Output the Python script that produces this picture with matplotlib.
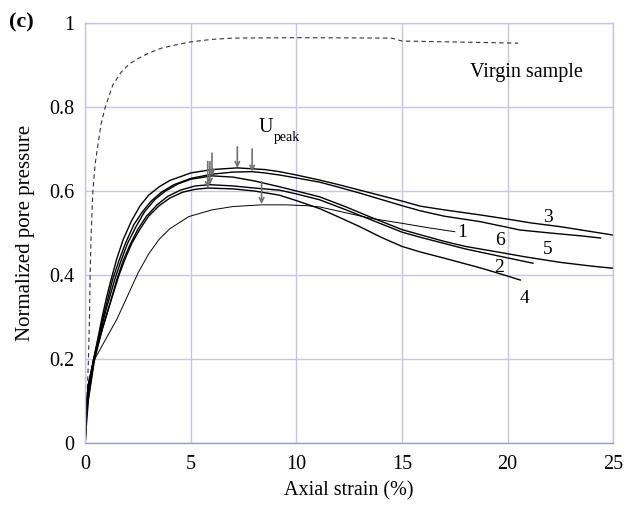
import matplotlib
matplotlib.use("Agg")
import matplotlib.pyplot as plt

plt.rcParams['font.family'] = ['Liberation Serif', 'DejaVu Serif']

# Virgin sample (dashed)
virgin_x = [0, 0.08, 0.15, 0.2, 0.23, 0.28, 0.36, 0.47, 0.6, 0.75, 0.95, 1.3, 1.7, 2.1, 2.6, 3.0, 3.6, 4.3, 5.0, 6.0, 7.0, 10.0, 14.5, 15.0, 20.5]
virgin_y = [0, 0.1, 0.2, 0.3, 0.4, 0.5, 0.6, 0.665, 0.71, 0.76, 0.8, 0.852, 0.883, 0.903, 0.918, 0.928, 0.94, 0.948, 0.955, 0.961, 0.964, 0.965, 0.964, 0.957, 0.952]

# Samples 1-6
c3_x = [0, 0.03, 0.15, 0.4, 0.6, 0.8, 1.0, 1.2, 1.5, 1.8, 2.2, 2.6, 3.0, 3.5, 4.0, 5.0, 6.0, 7.2, 8.5, 9.2, 10.0, 11.1, 12.0, 13.0, 14.0, 15.0, 15.85, 17.0, 18.7, 20.0, 21.1, 22.5, 24.0, 25.0]
c3_y = [0, 0.08, 0.14, 0.2, 0.25, 0.3, 0.345, 0.385, 0.44, 0.485, 0.53, 0.565, 0.59, 0.61, 0.625, 0.643, 0.651, 0.655, 0.651, 0.646, 0.638, 0.626, 0.615, 0.602, 0.589, 0.576, 0.564, 0.555, 0.543, 0.533, 0.524, 0.515, 0.503, 0.495]

c5_x = [0, 0.03, 0.15, 0.4, 0.6, 0.8, 1.0, 1.3, 1.6, 1.9, 2.3, 2.7, 3.1, 3.6, 4.2, 5.0, 6.0, 7.0, 7.9, 8.5, 9.2, 10.0, 11.1, 12.0, 13.0, 14.0, 15.0, 15.85, 17.0, 18.7, 20.6, 22.0, 23.5, 24.4]
c5_y = [0, 0.07, 0.13, 0.2, 0.245, 0.29, 0.33, 0.39, 0.435, 0.475, 0.52, 0.55, 0.575, 0.597, 0.615, 0.63, 0.64, 0.645, 0.646, 0.643, 0.638, 0.631, 0.621, 0.609, 0.595, 0.58, 0.565, 0.553, 0.54, 0.527, 0.507, 0.5, 0.493, 0.488]

c6_x = [0, 0.03, 0.15, 0.4, 0.6, 0.8, 1.0, 1.4, 1.7, 2.0, 2.4, 2.8, 3.3, 3.8, 4.4, 5.0, 6.0, 7.0, 8.0, 9.2, 10.0, 11.1, 12.3, 13.5, 15.0, 15.85, 17.0, 18.0, 19.5, 20.85, 22.5, 24.0, 25.0]
c6_y = [0, 0.06, 0.12, 0.2, 0.24, 0.28, 0.32, 0.39, 0.435, 0.475, 0.515, 0.55, 0.58, 0.6, 0.617, 0.628, 0.636, 0.633, 0.624, 0.61, 0.6, 0.586, 0.563, 0.538, 0.508, 0.496, 0.48, 0.468, 0.455, 0.443, 0.43, 0.421, 0.416]

c2_x = [0, 0.03, 0.15, 0.4, 0.6, 0.8, 1.1, 1.5, 1.8, 2.1, 2.5, 2.9, 3.4, 3.9, 4.5, 5.2, 5.9, 7.0, 8.0, 9.2, 10.0, 11.1, 12.3, 13.5, 15.0, 15.85, 17.0, 18.0, 19.5, 21.2]
c2_y = [0, 0.05, 0.11, 0.19, 0.23, 0.27, 0.32, 0.39, 0.435, 0.47, 0.51, 0.54, 0.567, 0.587, 0.602, 0.612, 0.615, 0.612, 0.607, 0.602, 0.593, 0.579, 0.556, 0.532, 0.502, 0.49, 0.475, 0.462, 0.446, 0.428]

c4_x = [0, 0.03, 0.15, 0.4, 0.6, 0.8, 1.1, 1.6, 1.9, 2.2, 2.6, 3.0, 3.5, 4.0, 4.6, 5.2, 5.8, 7.0, 8.0, 9.2, 10.0, 11.1, 12.0, 13.0, 14.0, 15.0, 15.85, 17.0, 18.7, 19.7, 20.6]
c4_y = [0, 0.08, 0.14, 0.2, 0.235, 0.27, 0.32, 0.4, 0.44, 0.475, 0.51, 0.54, 0.565, 0.583, 0.597, 0.604, 0.607, 0.605, 0.6, 0.59, 0.577, 0.558, 0.538, 0.515, 0.49, 0.468, 0.455, 0.44, 0.417, 0.402, 0.388]

c1_x = [0, 0.15, 0.45, 1.0, 1.5, 2.0, 2.5, 3.0, 3.5, 4.0, 4.9, 6.0, 7.0, 8.35, 9.5, 10.5, 11.1, 12.0, 13.5, 15.0, 16.3, 17.5]
c1_y = [0, 0.1, 0.2, 0.25, 0.295, 0.35, 0.405, 0.45, 0.485, 0.51, 0.539, 0.555, 0.563, 0.567, 0.567, 0.565, 0.562, 0.552, 0.535, 0.523, 0.512, 0.503]

# U_peak arrows: x position, arrow top, arrow tip
arrow_x = [5.8, 5.9, 6.0, 7.2, 7.9, 8.35]
arrow_top = [0.67, 0.67, 0.69, 0.705, 0.70, 0.622]
arrow_tip = [0.607, 0.615, 0.636, 0.655, 0.646, 0.569]

# Curve labels
label_text = ['3', '1', '6', '5', '2', '4']
label_x = [21.9, 17.85, 19.65, 21.9, 19.6, 20.8]
label_y = [0.536, 0.502, 0.483, 0.46, 0.417, 0.345]

fig = plt.figure(figsize=(6.27, 5.05), dpi=100)
ax = fig.add_axes([0.136, 0.1228, 0.842, 0.8317])

grid_c = '#c4c4e4'
ax.set_xlim(0, 25)
ax.set_ylim(0, 1)
ax.set_xticks([0, 5, 10, 15, 20, 25])
ax.set_yticks([0, 0.2, 0.4, 0.6, 0.8, 1.0])
ax.set_yticklabels(['0', '0.2', '0.4', '0.6', '0.8', '1'])
ax.grid(True, color=grid_c, lw=1.0)
ax.set_axisbelow(True)
for s in ax.spines.values():
    s.set_color(grid_c)
    s.set_linewidth(1.0)
ax.spines['bottom'].set_color('#9a9ad0')
ax.tick_params(length=0, labelsize=14.5)
ax.tick_params(axis='x', pad=9)
ax.tick_params(axis='y', pad=8)

ax.plot(virgin_x, virgin_y, color='#333333', lw=0.8, ls=(0, (4, 3)))

for xs, ys, lw in [(c3_x, c3_y, 1.0), (c5_x, c5_y, 1.0), (c6_x, c6_y, 1.0),
                   (c2_x, c2_y, 1.0), (c4_x, c4_y, 1.0), (c1_x, c1_y, 0.7)]:
    ax.plot(xs, ys, color='black', lw=lw)

for xa, yt, yp in zip(arrow_x, arrow_top, arrow_tip):
    ax.annotate('', xy=(xa, yp), xytext=(xa, yt),
                arrowprops=dict(arrowstyle='->', color='#707070', lw=1.2,
                                shrinkA=0, shrinkB=0, mutation_scale=8))

for t, lx, ly in zip(label_text, label_x, label_y):
    ax.text(lx, ly, t, fontsize=14, ha='center', va='center')

ax.text(20.9, 0.881, 'Virgin sample', fontsize=14.5, ha='center', va='center')
ax.text(8.55, 0.752, 'U', fontsize=14.5, ha='center', va='center')
ax.text(8.95, 0.728, 'peak', fontsize=10, ha='left', va='center')

ax.set_xlabel('Axial strain (%)', fontsize=14.5, labelpad=5)
ax.set_ylabel('Normalized pore pressure', fontsize=15, labelpad=10)

fig.text(0.034, 0.956, '(c)', fontsize=16, fontweight='bold', ha='center', va='center')

fig.savefig('out.png', dpi=100)
